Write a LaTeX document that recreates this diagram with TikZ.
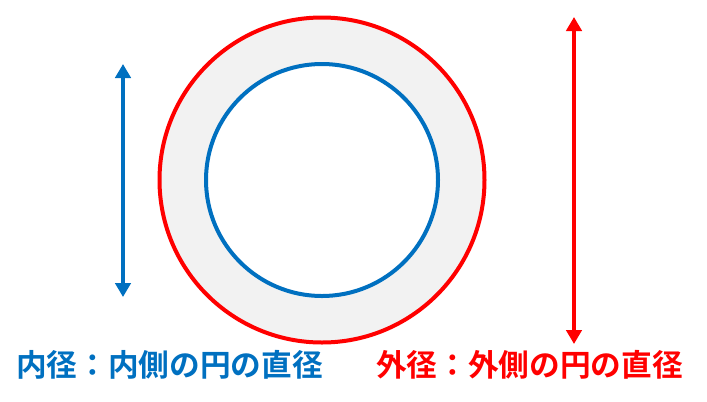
\documentclass[tikz,border=0pt]{standalone}
\usepackage{fontspec}
\newfontfamily\cjk{Noto Sans CJK JP Bold}
\usetikzlibrary{arrows.meta}
\definecolor{myblue}{HTML}{0070C0}
\definecolor{myred}{HTML}{FF0000}
\definecolor{mygray}{HTML}{F2F2F2}
\tikzset{
  ring/.style={line width=3pt},
  dimarrow/.style={line width=3.4pt, {Triangle[width=11.5pt,length=10.5pt]}-{Triangle[width=11.5pt,length=10.5pt]}, shorten <=0pt, shorten >=0pt},
  lbl/.style={font=\cjk\fontsize{23}{27}\selectfont, inner sep=0pt, anchor=west}
}
\begin{document}
\begin{tikzpicture}[x=0.75pt,y=-0.75pt]
\useasboundingbox (0,0) rectangle (707,401);
\fill[mygray, even odd rule] (322,180) circle[radius=162.5] (322,180) circle[radius=116];
\draw[ring, myred] (322,180) circle[radius=162.5];
\draw[ring, myblue] (322,180) circle[radius=116];
\coordinate (bt) at (123,64);
\coordinate (bb) at (123,297);
\coordinate (rt) at (574,17);
\coordinate (rb) at (574,344);
\draw[dimarrow, myblue] (bb) -- (bt);
\draw[dimarrow, myred] (rb) -- (rt);
\node[lbl, text=myblue] (inner) at (16,365) {内径：内側の円の直径};
\node[lbl, text=myred] (outer) at (376,365) {外径：外側の円の直径};
\end{tikzpicture}
\end{document}
